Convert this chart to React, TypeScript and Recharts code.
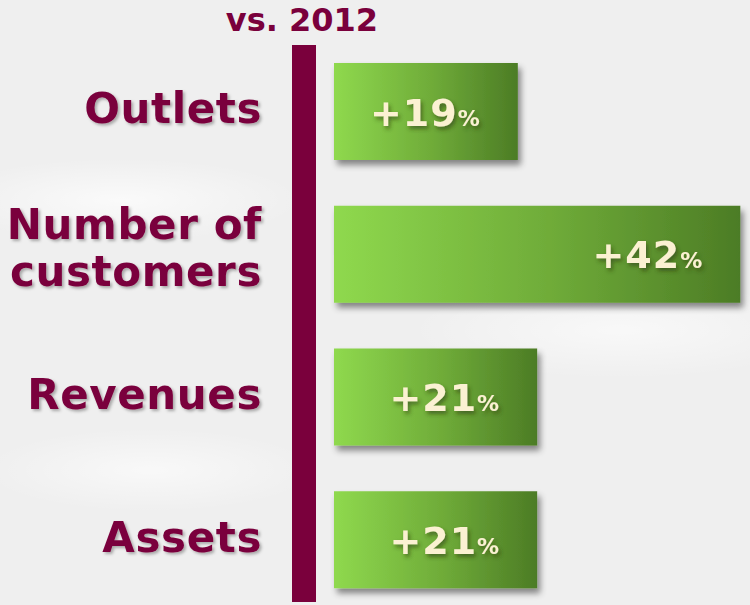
import { Bar, BarChart, LabelList, XAxis, YAxis } from "recharts";

const categories = ["Outlets", "Number of\ncustomers", "Revenues", "Assets"];
const growth = [19, 42, 21, 21];
const title = "vs. 2012";

const data = categories.map((name, i) => ({ name, growth: growth[i] }));

const MAROON = "#7a003c";
const FONT = "'DejaVu Sans', Verdana, sans-serif";

function CategoryTick(props: any) {
  const { x, y, payload } = props;
  const lines: string[] = String(payload.value).split("\n");
  const first = lines.length > 1 ? -15 : 12;
  return (
    <text
      x={x - 72}
      y={y}
      textAnchor="end"
      fill={MAROON}
      fontFamily={FONT}
      fontWeight="bold"
      fontSize={42}
      letterSpacing={0.6}
      filter="url(#txtShadow)"
    >
      {lines.map((line, i) => (
        <tspan key={i} x={x - 72} y={y + first + i * 47}>
          {line}
        </tspan>
      ))}
    </text>
  );
}

function GrowthLabel(props: any) {
  const { x, y, width, height, value } = props;
  const tx = x + width - 38;
  const ty = y + height / 2 + 14;
  return (
    <text
      x={tx}
      y={ty}
      textAnchor="end"
      fill="#fbf1d2"
      fontFamily={FONT}
      fontWeight="bold"
      filter="url(#valShadow)"
    >
      <tspan fontSize={38} letterSpacing={1}>{`+${value}`}</tspan>
      <tspan fontSize={22}>%</tspan>
    </text>
  );
}

export default function App() {
  return (
    <div
      style={{
        position: "relative",
        width: 750,
        height: 605,
        overflow: "hidden",
        background:
          "radial-gradient(ellipse 260px 60px at 120px 200px, rgba(255,255,255,0.7), rgba(255,255,255,0) 70%), radial-gradient(ellipse 300px 70px at 620px 330px, rgba(255,255,255,0.6), rgba(255,255,255,0) 70%), radial-gradient(ellipse 240px 60px at 150px 470px, rgba(255,255,255,0.6), rgba(255,255,255,0) 70%), #efefef",
      }}
    >
      <style>{"html,body{margin:0;padding:0;background:#efefef}"}</style>
      <div
        style={{
          position: "absolute",
          left: 150,
          width: 304,
          top: 0,
          textAlign: "center",
          fontFamily: FONT,
          fontWeight: "bold",
          fontSize: 32,
          lineHeight: "40px",
          color: MAROON,
        }}
      >
        {title}
      </div>
      <div
        style={{
          position: "absolute",
          left: 292,
          top: 45,
          width: 24,
          height: 557,
          background: MAROON,
        }}
      />
      <div style={{ position: "absolute", left: 0, top: 0 }}>
        <BarChart
          width={750}
          height={615}
          layout="vertical"
          data={data}
          margin={{ top: 40, right: 0, bottom: 4, left: 0 }}
          barSize={97}
        >
          <defs>
            <linearGradient id="barGrad" x1="0" y1="0" x2="1" y2="0">
              <stop offset="0%" stopColor="#8fd94e" />
              <stop offset="55%" stopColor="#6eaa38" />
              <stop offset="100%" stopColor="#4c7c25" />
            </linearGradient>
            <filter id="barShadow" x="-10%" y="-10%" width="125%" height="135%">
              <feDropShadow dx="3" dy="5" stdDeviation="3" floodColor="#000" floodOpacity="0.45" />
            </filter>
            <filter id="txtShadow" x="-10%" y="-20%" width="125%" height="150%">
              <feDropShadow dx="2" dy="2" stdDeviation="1.5" floodColor="#000" floodOpacity="0.3" />
            </filter>
            <filter id="valShadow" x="-10%" y="-20%" width="130%" height="160%">
              <feDropShadow dx="2" dy="3" stdDeviation="2" floodColor="#2a3a10" floodOpacity="0.6" />
            </filter>
          </defs>
          <XAxis type="number" domain={[0, 43]} hide />
          <YAxis
            type="category"
            dataKey="name"
            width={334}
            tickLine={false}
            axisLine={false}
            tickSize={0}
            tickMargin={0}
            interval={0}
            tick={<CategoryTick />}
          />
          <Bar
            dataKey="growth"
            fill="url(#barGrad)"
            filter="url(#barShadow)"
            isAnimationActive={false}
          >
            <LabelList dataKey="growth" content={<GrowthLabel />} />
          </Bar>
        </BarChart>
      </div>
    </div>
  );
}
